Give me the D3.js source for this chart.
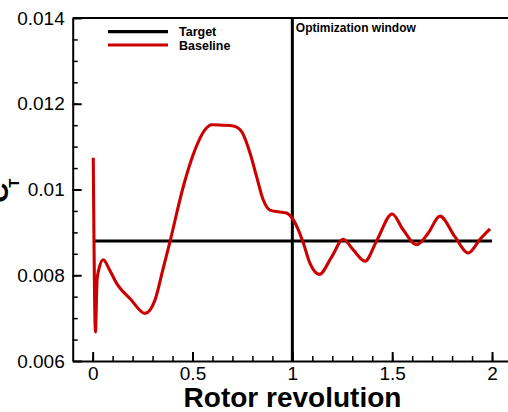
<!DOCTYPE html>
<html>
<head>
<meta charset="utf-8">
<script src="https://cdn.jsdelivr.net/npm/d3@7"></script>
<style>
  html, body { margin: 0; padding: 0; background: #fff; }
  svg { display: block; }
  text { font-family: "Liberation Sans", Arial, Helvetica, sans-serif; }
</style>
</head>
<body>
<svg id="chart" width="508" height="412"></svg>
<script>
// Rotor thrust coefficient history over two revolutions
const revolution = [0.003, 0.014, 0.022, 0.030, 0.053, 0.085, 0.120, 0.190, 0.262, 0.312,
  0.350, 0.387, 0.454, 0.512, 0.562, 0.596, 0.650, 0.704, 0.746, 0.788,
  0.821, 0.854, 0.888, 0.930, 0.971, 1.005, 1.030, 1.055, 1.088, 1.135,
  1.197, 1.255, 1.305, 1.364, 1.422, 1.500, 1.555, 1.622, 1.680, 1.739,
  1.814, 1.881, 1.940, 1.990];
const baselineCT = [0.01074, 0.00668, 0.00790, 0.00812, 0.00836, 0.00812, 0.00781, 0.00744, 0.00711, 0.00742,
  0.00810, 0.00878, 0.01007, 0.01092, 0.01139, 0.01151, 0.01150, 0.01148, 0.01135, 0.01085,
  0.01030, 0.00976, 0.00952, 0.00948, 0.00945, 0.00929, 0.00906, 0.00875, 0.00828, 0.00802,
  0.00843, 0.00884, 0.00859, 0.00833, 0.00880, 0.00943, 0.00906, 0.00871, 0.00898, 0.00938,
  0.00890, 0.00852, 0.00884, 0.00908];

const targetCT = 0.0088;
const targetRange = [0.01, 2.0];
const windowStart = 1.0;

const xTicks = [0, 0.5, 1, 1.5, 2];
const xTickLabels = ["0", "0.5", "1", "1.5", "2"];
const yTicks = [0.006, 0.008, 0.010, 0.012, 0.014];
const yTickLabels = ["0.006", "0.008", "0.01", "0.012", "0.014"];
const xMinor = d3.range(1, 22).map(i => -0.1 + i * 0.1);
const yMinor = d3.range(1, 16).map(i => 0.006 + i * 0.0005);

const legendNames = ["Target", "Baseline"];
const legendColors = ["#000000", "#cc0000"];

const svg = d3.select("#chart");
const plotLeft = 72.7, plotRight = 512, plotTop = 18, plotBottom = 361;

const x = d3.scaleLinear().domain([-0.1, 2.1]).range([plotLeft, plotRight]);
const y = d3.scaleLinear().domain([0.006, 0.014]).range([plotBottom, plotTop]);

// frame (top edge)
svg.append("line")
  .attr("x1", plotLeft).attr("x2", plotRight).attr("y1", plotTop).attr("y2", plotTop)
  .attr("stroke", "#000").attr("stroke-width", 2);

// minor ticks
svg.append("g").attr("transform", `translate(0,${plotBottom})`)
  .call(d3.axisBottom(x).tickValues(xMinor).tickSize(-5).tickSizeOuter(0).tickFormat(""))
  .call(g => g.select(".domain").remove())
  .call(g => g.selectAll("line").attr("stroke-width", 1.5));
svg.append("g").attr("transform", `translate(${plotLeft},0)`)
  .call(d3.axisLeft(y).tickValues(yMinor).tickSize(-5).tickSizeOuter(0).tickFormat(""))
  .call(g => g.select(".domain").remove())
  .call(g => g.selectAll("line").attr("stroke-width", 1.5));

// major axes
const xAxis = svg.append("g").attr("transform", `translate(0,${plotBottom})`)
  .call(d3.axisBottom(x).tickValues(xTicks).tickSize(-9).tickSizeOuter(0).tickPadding(6)
    .tickFormat((d, i) => xTickLabels[i]));
const yAxis = svg.append("g").attr("transform", `translate(${plotLeft},0)`)
  .call(d3.axisLeft(y).tickValues(yTicks).tickSize(-9).tickSizeOuter(0).tickPadding(8)
    .tickFormat((d, i) => yTickLabels[i]));
[xAxis, yAxis].forEach(g => {
  g.select(".domain").attr("stroke-width", 2);
  g.selectAll(".tick line").attr("stroke-width", 2);
  g.selectAll("text").attr("font-family", "Liberation Sans, Arial, sans-serif")
    .attr("font-size", 19).attr("fill", "#000");
});

// axis titles
svg.append("text")
  .attr("x", 292.5).attr("y", 407)
  .attr("text-anchor", "middle")
  .attr("font-size", 28).attr("font-weight", "bold")
  .text("Rotor revolution");

const yTitle = svg.append("text")
  .attr("transform", "translate(8,203) rotate(-90)")
  .attr("font-size", 28).attr("font-weight", "bold");
yTitle.append("tspan").text("C");
yTitle.append("tspan").attr("font-size", 15).attr("dx", -5).attr("dy", 11).text("T");

// optimization window marker
svg.append("line")
  .attr("x1", x(windowStart)).attr("x2", x(windowStart))
  .attr("y1", plotTop).attr("y2", plotBottom)
  .attr("stroke", "#000").attr("stroke-width", 3);
svg.append("text")
  .attr("x", x(windowStart) + 3.5).attr("y", 32)
  .attr("font-size", 12).attr("font-weight", "bold")
  .text("Optimization window");

// target level
svg.append("line")
  .attr("x1", x(targetRange[0])).attr("x2", x(targetRange[1]))
  .attr("y1", y(targetCT)).attr("y2", y(targetCT))
  .attr("stroke", legendColors[0]).attr("stroke-width", 3);

// baseline thrust history
const line = d3.line()
  .x((d, i) => x(revolution[i]))
  .y(d => y(d))
  .curve(d3.curveMonotoneX);
svg.append("path")
  .datum(baselineCT)
  .attr("d", line)
  .attr("fill", "none")
  .attr("stroke", legendColors[1])
  .attr("stroke-width", 3.1)
  .attr("stroke-linejoin", "round");

// legend
const legend = svg.append("g");
legendNames.forEach((name, i) => {
  const ly = 31.7 + i * 13.3;
  legend.append("line")
    .attr("x1", 108).attr("x2", 168).attr("y1", ly).attr("y2", ly)
    .attr("stroke", legendColors[i]).attr("stroke-width", 3.2);
  legend.append("text")
    .attr("x", 179).attr("y", ly + 4.5)
    .attr("font-size", 12.5).attr("font-weight", "bold")
    .text(name);
});
</script>
</body>
</html>
